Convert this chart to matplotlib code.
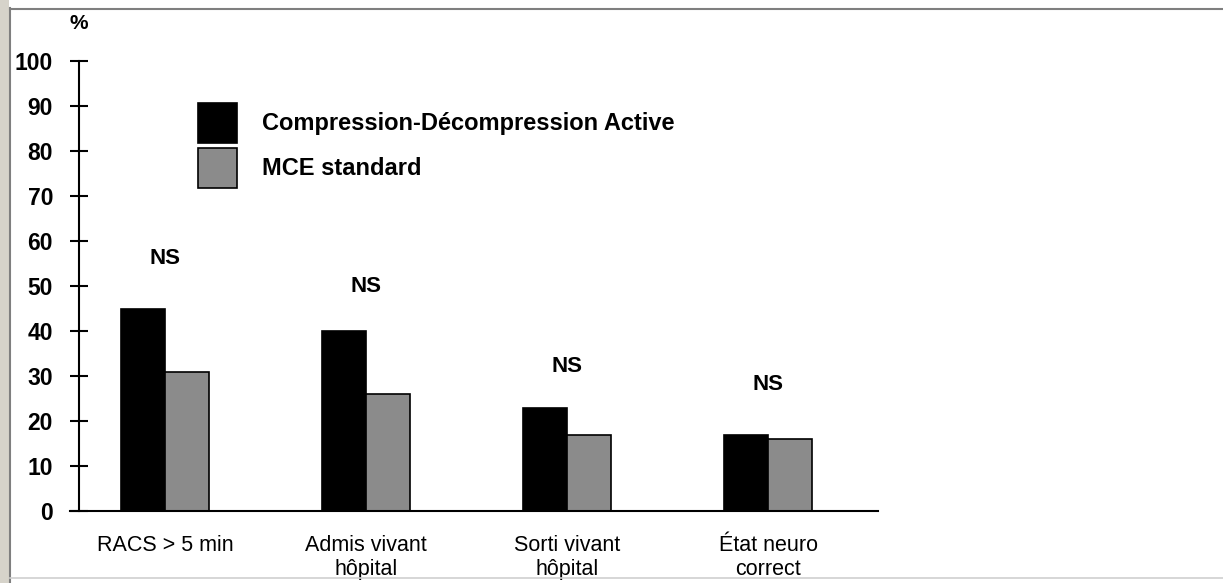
import numpy as np
import matplotlib
matplotlib.use("Agg")
import matplotlib.pyplot as plt
from matplotlib.lines import Line2D
from matplotlib.patches import Rectangle

plt.rcParams['font.family'] = ['Liberation Sans', 'DejaVu Sans']

# donnees
categories = ["RACS > 5 min", "Admis vivant\nhôpital", "Sorti vivant\nhôpital", "État neuro\ncorrect"]
cda = [45, 40, 23, 17]          # Compression-Décompression Active
mce = [31, 26, 17, 16]          # MCE standard
ns_labels = ["NS", "NS", "NS", "NS"]
ns_heights = [56, 50, 32, 28]
series_names = ["Compression-Décompression Active", "MCE standard"]
yticks = [0, 10, 20, 30, 40, 50, 60, 70, 80, 90, 100]

W, H = 1223, 583
fig = plt.figure(figsize=(W / 100, H / 100), dpi=100)
ax = fig.add_axes([70 / W, 72 / H, (878 - 70) / W, (511 - 61) / H])

x = np.arange(len(categories))
w = 0.22
b1 = ax.bar(x - w / 2, cda, width=w, color='black', edgecolor='black', linewidth=1.2)
b2 = ax.bar(x + w / 2, mce, width=w, color='#8b8b8b', edgecolor='black', linewidth=1.2)

for xi, lab, h in zip(x, ns_labels, ns_heights):
    ax.text(xi, h, lab, ha='center', va='center', fontsize=16, fontweight='bold')

ax.set_xlim(-0.473, 3.547)
ax.set_ylim(0, 100)
yaxis_x = -0.428
ax.spines['left'].set_position(('data', yaxis_x))
ax.spines['left'].set_linewidth(1.5)
ax.spines['bottom'].set_linewidth(1.5)
ax.spines['top'].set_visible(False)
ax.spines['right'].set_visible(False)

ax.set_yticks(yticks)
ax.set_yticklabels([str(t) for t in yticks], fontsize=16.5, fontweight='bold')
ax.tick_params(axis='y', direction='inout', length=13.5, width=1.5, pad=12)
ax.set_xticks(x)
ax.set_xticklabels(categories, fontsize=15.5)
ax.tick_params(axis='x', length=0, pad=17)

ax.text(yaxis_x, 108.4, "%", ha='center', va='center', fontsize=15,
        fontweight='bold', clip_on=False)

fs_leg = 17
ax.legend([b1, b2], series_names, loc='upper left',
          bbox_to_anchor=(198 / W, 1 - 103 / H), bbox_transform=fig.transFigure,
          frameon=False, prop={'weight': 'bold', 'size': fs_leg},
          handlelength=1.65, handleheight=2.23, labelspacing=0.21,
          handletextpad=1.06, borderpad=0, borderaxespad=0)

# cadre de l'image
fig.add_artist(Rectangle((0, 0), 8.5 / W, 1, transform=fig.transFigure,
                         color='#d6d3ca', lw=0))
fig.add_artist(Line2D([9.5 / W, 9.5 / W], [0, 1 - 8 / H], transform=fig.transFigure,
                      color='#7f7f7f', lw=1.5))
fig.add_artist(Line2D([9.5 / W, 1], [1 - 9 / H, 1 - 9 / H], transform=fig.transFigure,
                      color='#7f7f7f', lw=1.5))
fig.add_artist(Line2D([9.5 / W, 1], [5 / H, 5 / H], transform=fig.transFigure,
                      color='#cfcfcf', lw=1.2))

fig.savefig("out.png", dpi=100)
